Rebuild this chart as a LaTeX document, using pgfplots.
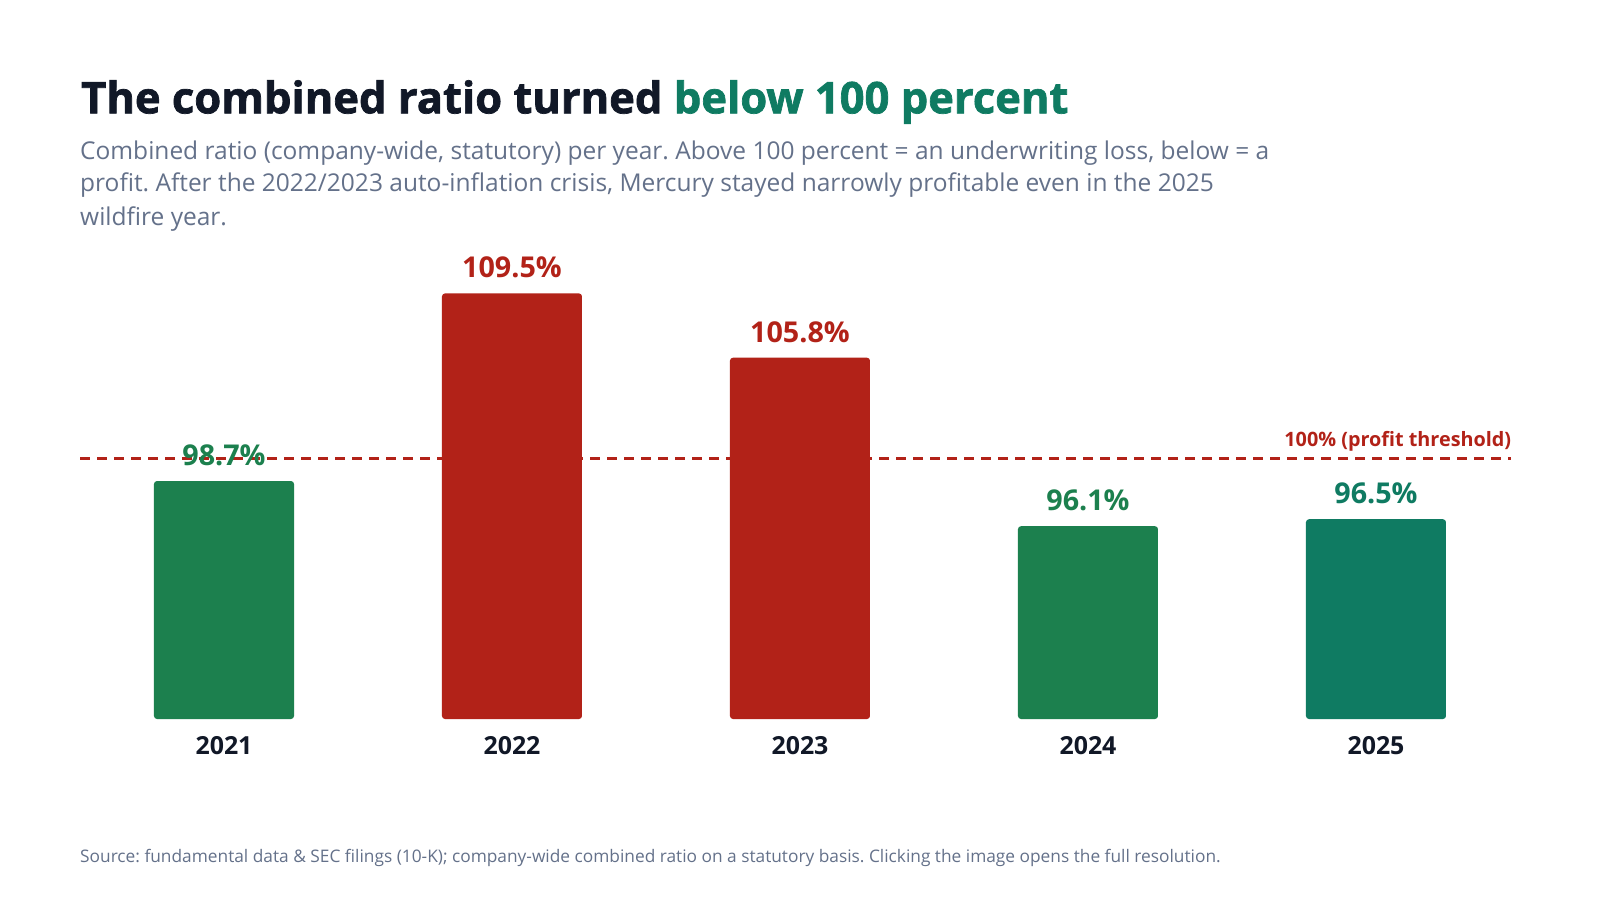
\documentclass[border=0pt]{standalone}
\usepackage{fontspec}
\setmainfont{Open Sans}
\newfontfamily\titlefont[BoldFeatures={FakeBold=1.6}]{Open Sans}
\usepackage{pgfplots}
\pgfplotsset{compat=1.18}
\definecolor{cgreen}{HTML}{1C804E}
\definecolor{cteal}{HTML}{0F7B62}
\definecolor{cred}{HTML}{B22218}
\definecolor{cdark}{HTML}{111827}
\definecolor{cgray}{HTML}{64718A}
\frenchspacing
\begin{document}
\begin{tikzpicture}[x=1pt,y=1pt]
\path[use as bounding box, fill=white] (0,0) rectangle (1600,900);
\coordinate (A) at (80,181);
\node[anchor=base west, inner sep=0, font=\titlefont\fontsize{43.5}{54}\selectfont\bfseries, text=cdark] at (81,786.7) {The combined ratio turned \textcolor{cteal}{below 100 percent}};
\begin{scope}[every node/.style={anchor=base west, inner sep=0, font=\fontsize{24.5}{30}\selectfont, text=cgray}]
\node at (80,740) {Combined ratio (company-wide, statutory) per year. Above 100 percent = an underwriting loss, below = a};
\node at (80,708) {profit. After the 2022/2023 auto-inflation crisis, Mercury stayed narrowly profitable even in the 2025};
\node at (80,674.3) {wildfire year.};
\node[font=\fontsize{17.3}{20}\selectfont] at (80,38) {Source: fundamental data \& SEC filings (10-K); company-wide combined ratio on a statutory basis. Clicking the image opens the full resolution.};
\end{scope}
\begin{axis}[
  at={(A)}, anchor=south west,
  width=1440pt, height=521.1pt, scale only axis,
  xmin=-0.5, xmax=4.5, ymin=85, ymax=115,
  enlargelimits=false,
  axis line style={draw=none},
  ytick=\empty,
  xtick={0,1,2,3,4},
  xticklabels={2021,2022,2023,2024,2025},
  major tick length=0pt,
  xticklabel style={anchor=base, yshift=-35pt, font=\fontsize{24.9}{28}\selectfont\bfseries, text=cdark},
  point meta=explicit symbolic,
  every node near coord/.append style={anchor=base, yshift=15.5pt, font=\fontsize{28.7}{32}\selectfont\bfseries},
]
\addplot[draw=cred, line width=2.3pt, dash pattern=on 10pt off 7pt, mark=none] coordinates {(-0.5,100) (4.47,100)};
\addplot[ybar, bar width=140pt, fill=cgreen, draw=none, rounded corners=3pt, nodes near coords, every node near coord/.append style={text=cgreen}] coordinates {(0,98.7) [98.7\%] (3,96.1) [96.1\%]};
\addplot[ybar, bar width=140pt, fill=cred, draw=none, rounded corners=3pt, nodes near coords, every node near coord/.append style={text=cred}] coordinates {(1,109.5) [109.5\%] (2,105.8) [105.8\%]};
\addplot[ybar, bar width=140pt, fill=cteal, draw=none, rounded corners=3pt, nodes near coords, every node near coord/.append style={text=cteal}] coordinates {(4,96.5) [96.5\%]};
\node[anchor=base east, inner sep=0, yshift=12.3pt, font=\fontsize{19.8}{22}\selectfont\bfseries, text=cred] at (axis cs:4.47,100) {100\% (profit threshold)};
\end{axis}
\end{tikzpicture}
\end{document}
